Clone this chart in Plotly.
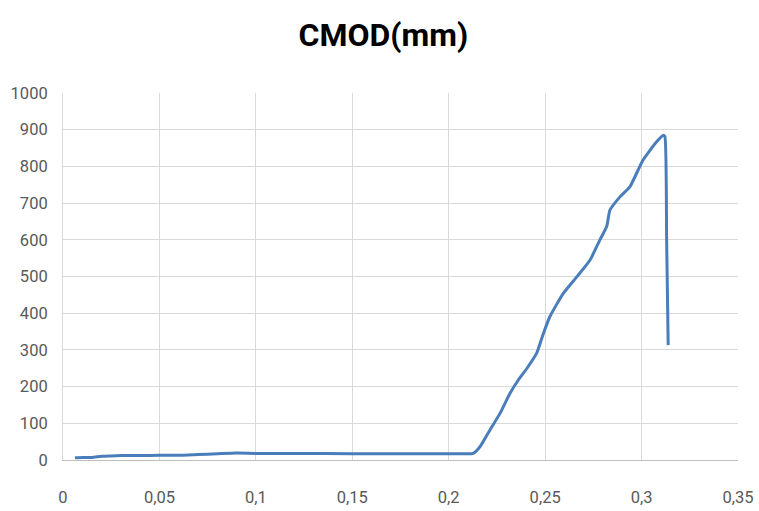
import plotly.graph_objects as go

# CMOD (mm) against load
cmod = [0.0062, 0.010, 0.015, 0.020, 0.025, 0.030, 0.040, 0.050, 0.060, 0.070, 0.080,
        0.090, 0.100, 0.120, 0.150, 0.180, 0.200, 0.208, 0.2127, 0.2162, 0.2214,
        0.2266, 0.2318, 0.2361, 0.2406, 0.2456, 0.2491, 0.2525, 0.2594, 0.2664,
        0.2733, 0.2784, 0.2819, 0.2836, 0.2888, 0.2940, 0.3007, 0.3078, 0.3113,
        0.3121, 0.3130, 0.3138]
load = [6, 7, 7, 10, 11, 12, 12, 13, 13, 15, 17,
        19, 18, 18, 17, 17, 17, 17, 18, 36, 82,
        127, 182, 218, 250, 291, 345, 391, 454, 499,
        545, 600, 636, 681, 717, 745, 817, 867, 885,
        881, 600, 313]

x_ticks = [0, 0.05, 0.1, 0.15, 0.2, 0.25, 0.3, 0.35]
x_labels = ["0", "0,05", "0,1", "0,15", "0,2", "0,25", "0,3", "0,35"]
y_ticks = [0, 100, 200, 300, 400, 500, 600, 700, 800, 900, 1000]
y_labels = [str(v) for v in y_ticks]

fig = go.Figure(go.Scatter(
    x=cmod, y=load, mode="lines",
    line=dict(color="#4a7ebb", width=3, shape="spline", smoothing=0.5),
    showlegend=False,
))

tick_font = dict(family="Roboto, sans-serif", size=16.5, color="#595959")

fig.update_layout(
    width=759, height=511,
    margin=dict(l=63, r=21, t=93, b=51, autoexpand=False),
    paper_bgcolor="white", plot_bgcolor="white",
    title=dict(text="<b>CMOD(mm)</b>", x=0.505, xanchor="center", y=0.932, yanchor="middle",
               font=dict(family="Roboto, sans-serif", size=32, color="#000000")),
    xaxis=dict(range=[0, 0.35], tickvals=x_ticks, ticktext=x_labels, automargin=False,
               showgrid=True, gridcolor="#d9d9d9", gridwidth=1,
               showline=True, linecolor="#bfbfbf", linewidth=1,
               zeroline=False, ticks="outside", ticklen=22, tickcolor="white",
               tickfont=tick_font),
    yaxis=dict(range=[0, 1000], tickvals=y_ticks, ticktext=y_labels, automargin=False,
               showgrid=True, gridcolor="#d9d9d9", gridwidth=1,
               showline=True, linecolor="#d9d9d9", linewidth=1,
               zeroline=False, ticks="outside", ticklen=11, tickcolor="white",
               tickfont=tick_font),
)

fig.write_html("out.html")
